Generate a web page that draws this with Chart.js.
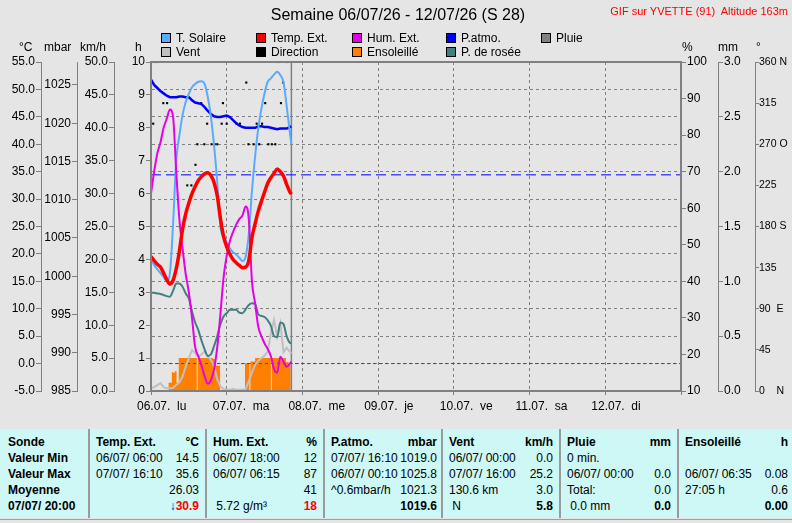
<!DOCTYPE html>
<html>
<head>
<meta charset="utf-8">
<title>Semaine 06/07/26 - 12/07/26 (S 28)</title>
<script src="https://cdn.jsdelivr.net/npm/chart.js@4.4.1/dist/chart.umd.min.js"></script>
<style>
  html, body { margin: 0; padding: 0; }
  body { width: 792px; height: 523px; background: #e5e5e5; position: relative; overflow: hidden;
         font-family: "Liberation Sans", Arial, sans-serif; color: #000; }
  #chart { position: absolute; left: 0; top: 0; }
  .abs { position: absolute; white-space: pre; line-height: 1; }
  #title { left: 0; width: 796px; top: 7px; text-align: center; font-size: 16px; }
  #station { right: 4px; top: 6px; font-size: 11px; color: #ff0000; }
  .leg { position: absolute; font-size: 12px; line-height: 12px; white-space: pre; }
  .leg i { position: absolute; left: 0; top: 1px; width: 8px; height: 8px; border: 1px solid #000; }
  .leg span { position: absolute; left: 15px; top: 0; }
  .unit { position: absolute; top: 41px; font-size: 12px; line-height: 12px; }
  #tbl { position: absolute; left: 0; top: 429px; width: 792px; height: 89px; background: #cdf8f6; font-size: 12px; }
  #foot { position: absolute; left: 0; top: 519px; width: 792px; height: 1px; background: #a0a0a0; }
  .pan { position: absolute; top: 0; height: 89px; box-sizing: border-box; }
  .pan + .pan { border-left: 2px solid #9a9a9a; }
  .row { position: absolute; left: 6px; right: 6px; height: 16px; line-height: 16px; white-space: pre; }
  .row .r { position: absolute; right: 0; top: 0; }
  .b { font-weight: bold; }
  .red { color: #ff0000; font-weight: bold; }
  .blue { color: #0000ff; font-weight: bold; }
</style>
</head>
<body>
<canvas id="chart" width="792" height="425"></canvas>

<div id="title" class="abs">Semaine 06/07/26 - 12/07/26 (S 28)</div>
<div id="station" class="abs">GIF sur YVETTE (91)  Altitude 163m</div>

<div class="leg" style="left:161px;top:32px"><i style="background:#5aaaff"></i><span>T. Solaire</span></div>
<div class="leg" style="left:256px;top:32px"><i style="background:#ff0000"></i><span>Temp. Ext.</span></div>
<div class="leg" style="left:352px;top:32px"><i style="background:#e600e6"></i><span>Hum. Ext.</span></div>
<div class="leg" style="left:446px;top:32px"><i style="background:#0000ff"></i><span>P.atmo.</span></div>
<div class="leg" style="left:541px;top:32px"><i style="background:#808080"></i><span>Pluie</span></div>
<div class="leg" style="left:161px;top:46px"><i style="background:#c0c0c0"></i><span>Vent</span></div>
<div class="leg" style="left:256px;top:46px"><i style="background:#000000"></i><span>Direction</span></div>
<div class="leg" style="left:352px;top:46px"><i style="background:#ff8000"></i><span>Ensoleillé</span></div>
<div class="leg" style="left:446px;top:46px"><i style="background:#408080"></i><span>P. de rosée</span></div>

<div class="unit" style="left:19px">°C</div>
<div class="unit" style="left:44px">mbar</div>
<div class="unit" style="left:80px">km/h</div>
<div class="unit" style="left:135px">h</div>
<div class="unit" style="left:682px">%</div>
<div class="unit" style="left:718px">mm</div>
<div class="unit" style="left:756px">°</div>

<div id="tbl">
  <div class="pan" style="left:0;width:88px">
    <div class="row b" style="top:5px;left:8px">Sonde</div>
    <div class="row b" style="top:21px;left:8px">Valeur Min</div>
    <div class="row b" style="top:37px;left:8px">Valeur Max</div>
    <div class="row b" style="top:53px;left:8px">Moyenne</div>
    <div class="row b" style="top:69px;left:8px">07/07/ 20:00</div>
  </div>
  <div class="pan" style="left:88px;width:117px">
    <div class="row b" style="top:5px">Temp. Ext.<span class="r">°C</span></div>
    <div class="row" style="top:21px">06/07/ 06:00<span class="r">14.5</span></div>
    <div class="row" style="top:37px">07/07/ 16:10<span class="r">35.6</span></div>
    <div class="row" style="top:53px"><span class="r">26.03</span></div>
    <div class="row" style="top:69px"><span class="r"><span class="blue">↓</span><span class="red">30.9</span></span></div>
  </div>
  <div class="pan" style="left:205px;width:118px">
    <div class="row b" style="top:5px">Hum. Ext.<span class="r">%</span></div>
    <div class="row" style="top:21px">06/07/ 18:00<span class="r">12</span></div>
    <div class="row" style="top:37px">06/07/ 06:15<span class="r">87</span></div>
    <div class="row" style="top:53px"><span class="r">41</span></div>
    <div class="row" style="top:69px"> 5.72 g/m³<span class="r red">18</span></div>
  </div>
  <div class="pan" style="left:323px;width:118px">
    <div class="row b" style="top:5px;right:4px">P.atmo.<span class="r">mbar</span></div>
    <div class="row" style="top:21px;right:4px">07/07/ 16:10<span class="r">1019.0</span></div>
    <div class="row" style="top:37px;right:4px">06/07/ 00:10<span class="r">1025.8</span></div>
    <div class="row" style="top:53px;right:4px">^0.6mbar/h<span class="r">1021.3</span></div>
    <div class="row" style="top:69px;right:4px"><span class="r b">1019.6</span></div>
  </div>
  <div class="pan" style="left:441px;width:118px">
    <div class="row b" style="top:5px">Vent<span class="r">km/h</span></div>
    <div class="row" style="top:21px">06/07/ 00:00<span class="r">0.0</span></div>
    <div class="row" style="top:37px">07/07/ 16:00<span class="r">25.2</span></div>
    <div class="row" style="top:53px">130.6 km<span class="r">3.0</span></div>
    <div class="row" style="top:69px"> N<span class="r b">5.8</span></div>
  </div>
  <div class="pan" style="left:559px;width:118px">
    <div class="row b" style="top:5px">Pluie<span class="r">mm</span></div>
    <div class="row" style="top:21px">0 min.</div>
    <div class="row" style="top:37px">06/07/ 00:00<span class="r">0.0</span></div>
    <div class="row" style="top:53px">Total:<span class="r">0.0</span></div>
    <div class="row" style="top:69px"> 0.0 mm<span class="r b">0.0</span></div>
  </div>
  <div class="pan" style="left:677px;width:115px">
    <div class="row b" style="top:5px;right:4px">Ensoleillé<span class="r">h</span></div>
    <div class="row" style="top:37px;right:4px">06/07/ 06:35<span class="r">0.08</span></div>
    <div class="row" style="top:53px;right:4px">27:05 h<span class="r">0.6</span></div>
    <div class="row" style="top:69px;right:4px"><span class="r b">0.00</span></div>
  </div>
</div>
<div id="foot"></div>

<script>
// heures depuis le 06/07 00:00
const hrs = [0, 1, 2, 3, 4, 5, 6, 7, 8, 9, 10, 11, 12, 13, 14, 15, 16, 17, 18, 19, 20, 21, 22,
  23, 24, 25, 26, 27, 28, 29, 30, 31, 32, 33, 34, 35, 36, 37, 38, 39, 40, 41, 42, 43, 44, 44.5];

const tSolaire = [19.0, 18.0, 17.2, 16.5, 15.8, 15.0, 16.5, 25.5, 37.0, 41.6, 45.3, 47.7, 49.2, 50.4,
  51.0, 51.4, 51.5, 51.0, 48.6, 45.0, 39.7, 33.1, 25.0, 23.0, 22.0, 21.0, 20.3, 19.9, 19.3, 18.7, 19.5,
  23.6, 31.5, 37.8, 42.9, 46.5, 49.3, 51.4, 52.0, 52.7, 53.2, 52.6, 51.3, 47.0, 42.2, 40.0];

const tempExt = [19.5, 18.8, 18.1, 17.6, 16.5, 15.3, 14.5, 15.2, 17.3, 20.5, 24.5, 27.3, 29.3, 31.0,
  32.3, 33.4, 34.1, 34.6, 34.8, 34.3, 33.0, 30.6, 26.5, 23.2, 21.3, 20.0, 19.0, 18.4, 17.9, 17.5, 17.6,
  18.8, 23.0, 25.5, 27.8, 29.6, 31.3, 32.9, 33.9, 34.7, 35.5, 35.0, 34.2, 32.7, 31.3, 30.9];

const humExt = [64, 70, 75, 78, 82, 84.5, 87, 85, 70, 57, 49, 42, 37, 30, 22, 19.5, 17, 14, 12, 13, 16,
  22, 31, 41, 47, 51, 53.5, 55.5, 57, 58, 60.5, 57, 40, 34, 27.6, 25, 23, 21.5, 19.5, 16, 15, 19.4, 18,
  16.6, 17.5, 18];

const pAtmo = [1025.7, 1025.0, 1024.6, 1024.2, 1023.9, 1023.6, 1023.4, 1023.4, 1023.4, 1023.5, 1023.5,
  1023.4, 1023.4, 1023.0, 1022.7, 1022.6, 1022.5, 1022.1, 1021.6, 1021.2, 1020.9, 1020.8, 1020.8, 1020.9,
  1021.0, 1020.8, 1020.4, 1020.0, 1019.7, 1019.5, 1019.4, 1019.4, 1019.4, 1019.4, 1019.6, 1019.6, 1019.5,
  1019.5, 1019.4, 1019.3, 1019.2, 1019.3, 1019.3, 1019.3, 1019.5, 1019.6];

const rosee = [12.9, 12.9, 12.8, 12.7, 12.5, 12.3, 12.2, 13.3, 14.6, 14.6, 14.0, 12.8, 11.9, 9.5, 7.5,
  6.1, 4.2, 2.6, 1.4, 1.7, 3.2, 5.0, 7.2, 8.6, 9.2, 9.8, 9.8, 9.8, 9.3, 9.2, 9.9, 10.7, 11.0, 10.9, 9.0,
  8.7, 8.5, 7.9, 6.9, 5.0, 4.8, 7.5, 7.2, 5.0, 3.8, 3.7];

const vent = [0.4, 0.6, 0.9, 1.2, 0.6, 0.4, 0.4, 0.5, 0.9, 1.3, 2.2, 3.7, 5.0, 6.2, 5.8, 5.2, 5.6, 6.0,
  5.3, 4.7, 3.7, 1.8, 0.7, 0.3, 0.2, 0.2, 0.3, 0.2, 0.2, 0.2, 0.3, 1.5, 2.8, 4.0, 4.6, 5.0, 5.4, 6.0, 8.8,
  10.8, 8.3, 10.3, 5.9, 6.6, 6.0, 5.7];

const dirH = [0.7, 1.5, 3.9, 5.1, 11.5, 12.8, 14.1, 14.7, 15.9, 16.9, 17.8, 19.2, 20.2, 21.0, 22.4, 22.8,
  24.0, 27.2, 28.2, 30.2, 30.9, 32.5, 33.5, 34.3, 35.2, 36.2, 37.2, 38.3, 39.4, 40.2, 41.2, 41.9, 43.2];
const dirDeg = [292.5, 360, 315, 315, 225, 225, 247.5, 270, 315, 270, 292.5, 270, 270, 270, 292.5, 315,
  292.5, 292.5, 292.5, 337.5, 270, 270, 292.5, 270, 292.5, 315, 270, 270, 270, 360, 315, 337.5, 360];

const sunH = [5.5, 6.6, 7.0, 7.5, 8.1, 8.8, 14.5, 14.8, 19.6, 20.6, 21.9,
  29.8, 31.2, 31.5, 33.0, 38.0, 38.3, 42.8, 43.6, 44.3];
const sunV = [0.25, 0.58, 0.55, 0.6, 0.25, 1.0, 0, 1.0, 0.97, 0.77, 0,
  0.84, 0, 0.9, 1.0, 0, 1.0, 0.88, 0.8, 0];

const pluieH = [0, 44.5];
const pluieV = [0, 0];

const pNormale = 1013.25;
const tZero = 0;
const nowH = 44.5;

const dayTicks = [0, 24, 48, 72, 96, 120, 144, 168];
const dayLabels = ['06.07.  lu', '07.07.  ma', '08.07.  me', '09.07.  je', '10.07.  ve', '11.07.  sa', '12.07.  di', ''];
const tempTicks = [-5, 0, 5, 10, 15, 20, 25, 30, 35, 40, 45, 50, 55];
const mbarTicks = [985, 990, 995, 1000, 1005, 1010, 1015, 1020, 1025];
const kmhTicks = [0, 5, 10, 15, 20, 25, 30, 35, 40, 45, 50];
const hTicks = [0, 1, 2, 3, 4, 5, 6, 7, 8, 9, 10];
const humTicks = [10, 20, 30, 40, 50, 60, 70, 80, 90, 100];
const mmTicks = [0, 0.5, 1, 1.5, 2, 2.5, 3];
const degTicks = [0, 45, 90, 135, 180, 225, 270, 315, 360];
const degLabels = ['0    N', '45', '90  E', '135', '180 S', '225', '270 O', '315', '360 N'];

const pts = (xs, ys) => xs.map((x, i) => ({ x: x, y: ys[i] }));
const fixTicks = list => scale => { scale.ticks = list.map(v => ({ value: v })); };
const fixWidth = w => scale => { scale.width = w; };

function yAxis(pos, weight, min, max, list, width, fmt) {
  return {
    type: 'linear', position: pos, weight: weight, min: min, max: max,
    afterBuildTicks: fixTicks(list),
    afterFit: fixWidth(width),
    grid: { drawOnChartArea: false, color: '#808080', tickLength: 5 },
    border: { color: '#808080', width: 1 },
    ticks: { color: '#000', padding: 1, autoSkip: false, callback: fmt }
  };
}

const cadre = {
  id: 'cadre',
  afterDatasetsDraw(chart) {
    const { ctx, chartArea: a } = chart;
    ctx.save();
    ctx.strokeStyle = '#808080';
    ctx.lineWidth = 2;
    ctx.strokeRect(a.left, a.top, a.right - a.left, a.bottom - a.top);
    ctx.restore();
  }
};

Chart.defaults.font.family = "'Liberation Sans', Arial, sans-serif";
Chart.defaults.font.size = 12;

const line = (data, axis, color, width, extra) => Object.assign({
  data: data, yAxisID: axis, borderColor: color, backgroundColor: color, borderWidth: width,
  pointRadius: 0, fill: false, cubicInterpolationMode: 'monotone'
}, extra || {});

const degAxis = yAxis('right', 3, 0, 360, degTicks, 37, (v, i) => degLabels[i]);
degAxis.ticks.font = { size: 10.5 };
degAxis.ticks.padding = 0;
degAxis.grid.tickLength = 4;

new Chart(document.getElementById('chart'), {
  type: 'line',
  data: {
    datasets: [
      line(pts(hrs, tempExt), 'yT', '#ff0000', 3.5),
      line(pts(hrs, humExt), 'yHum', '#e600e6', 2),
      line(pts(hrs, tSolaire), 'yT', '#5aaaff', 2),
      line(pts(hrs, pAtmo), 'yP', '#0000ff', 2.5, { cubicInterpolationMode: 'default', tension: 0 }),
      line(pts(hrs, rosee), 'yT', '#408080', 2),
      line(pts(dirH, dirDeg), 'yDeg', '#000000', 0, { showLine: false, pointRadius: 1.5, pointStyle: 'rect', pointBorderWidth: 0 }),
      line(pts(hrs, vent), 'yV', '#c0c0c0', 2, { cubicInterpolationMode: 'default', tension: 0 }),
      line(pts(pluieH, pluieV), 'yMm', '#808080', 1),
      line(pts([0, 168], [pNormale, pNormale]), 'yP', '#0000ff', 1, { borderDash: [10, 5] }),
      line(pts([0, 168], [tZero, tZero]), 'yT', '#ff0000', 1, { borderDash: [3, 3] }),
      line(pts([nowH, nowH], [-5, 55]), 'yT', '#808080', 1.5),
      line(pts(sunH, sunV), 'yH', '#ff8000', 0, { stepped: true, fill: 'origin', cubicInterpolationMode: 'default' })
    ]
  },
  options: {
    responsive: false,
    devicePixelRatio: 1,
    animation: false,
    events: [],
    layout: { padding: { top: 62, left: 0, right: 0, bottom: 12 } },
    plugins: { legend: { display: false }, tooltip: { enabled: false }, title: { display: false } },
    scales: {
      x: {
        type: 'linear', min: 0, max: 168,
        afterBuildTicks: fixTicks(dayTicks),
        afterFit: s => { s.height = 22; },
        grid: {
          color: c => (c.tick && (c.tick.value === 0 || c.tick.value === 168)) ? 'rgba(0,0,0,0)' : '#808080',
          tickColor: '#808080', tickLength: 4
        },
        border: { color: '#808080', width: 1, dash: [3, 3] },
        ticks: { color: '#000', align: 'start', labelOffset: -14, padding: 4, autoSkip: false, maxRotation: 0,
                 callback: (v, i) => dayLabels[i] }
      },
      yT: Object.assign(yAxis('left', 4, -5, 55, tempTicks, 41, v => v.toFixed(1)), {
        grid: { drawOnChartArea: true, color: '#808080', tickLength: 5 },
        border: { color: '#808080', width: 1, dash: [3, 3] }
      }),
      yP: yAxis('left', 3, 985, 1028, mbarTicks, 36, v => String(v)),
      yV: yAxis('left', 2, 0, 50, kmhTicks, 37, v => v.toFixed(1)),
      yH: yAxis('left', 1, 0, 10, hTicks, 37, v => String(v)),
      yHum: yAxis('right', 1, 10, 100, humTicks, 37, v => String(v)),
      yMm: yAxis('right', 2, 0, 3, mmTicks, 37, v => v.toFixed(1)),
      yDeg: degAxis
    }
  },
  plugins: [cadre]
});
</script>
</body>
</html>
